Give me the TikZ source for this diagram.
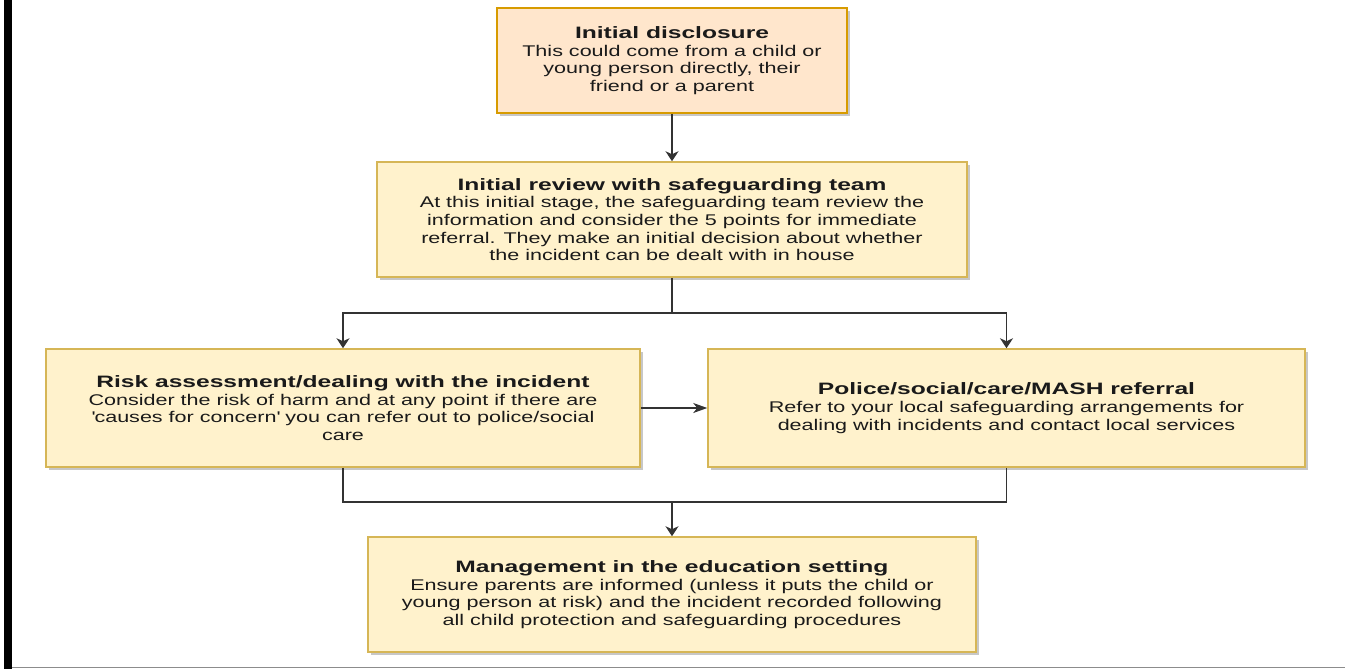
\documentclass[tikz,border=0pt]{standalone}
\usepackage{fontspec}
\newfontfamily\dfont[FakeStretch=1.39]{Liberation Sans}
\newfontfamily\tfont[FakeStretch=1.49]{Liberation Sans}
\newcommand\boxtitle[1]{{\tfont\bfseries\fontsize{16.5}{17.7}\selectfont #1}}
\usetikzlibrary{arrows.meta,shadows}
\definecolor{peachfill}{HTML}{FFE6CC}
\definecolor{peachline}{HTML}{D79B00}
\definecolor{yelfill}{HTML}{FFF2CC}
\definecolor{yelline}{HTML}{D6B656}
\definecolor{connc}{HTML}{333333}
\definecolor{bodytext}{HTML}{1A1A1A}
\definecolor{rulegray}{HTML}{8C8C8C}
\begin{document}
\begin{tikzpicture}[x=1pt,y=-1pt,
  box/.style={draw=yelline, fill=yelfill, line width=1.5pt, align=center, inner sep=0pt,
    text=bodytext, font=\dfont\fontsize{15.5}{17.7}\selectfont,
    drop shadow={shadow xshift=3pt,shadow yshift=-3pt,fill=black,opacity=0.22}},
  peach/.style={box, draw=peachline, fill=peachfill},
  conn/.style={draw=connc, line width=1.6pt},
  vtip/.style={-{Stealth[length=10pt,width=13pt,inset=3pt]}},
  htip/.style={-{Stealth[length=14pt,width=10pt,inset=4pt]}},
]
\useasboundingbox (0,0) rectangle (1345,669);
\fill[black] (4,0) rectangle (12,669);
\draw[rulegray, line width=1.5pt] (12,667.5) -- (1345,667.5);

\node[peach, minimum width=350pt, minimum height=105pt] (b1) at (672,60.5)
  {\boxtitle{Initial disclosure}\\This could come from a child or\\young person directly, their\\friend or a parent};
\node[box, minimum width=590pt, minimum height=115pt] (b2) at (672,219.5)
  {\boxtitle{Initial review with safeguarding team}\\At this initial stage, the safeguarding team review the\\information and consider the 5 points for immediate\\referral. They make an initial decision about whether\\the incident can be dealt with in house};
\node[box, minimum width=594pt, minimum height=118pt] (b3) at (343,408)
  {\boxtitle{Risk assessment/dealing with the incident}\\Consider the risk of harm and at any point if there are\\\textquotesingle causes for concern\textquotesingle{} you can refer out to police/social\\care};
\node[box, minimum width=597pt, minimum height=118pt] (b4) at (1006.5,408)
  {\boxtitle{Police/social/care/MASH referral}\\Refer to your local safeguarding arrangements for\\dealing with incidents and contact local services};
\node[box, minimum width=608pt, minimum height=115pt] (b5) at (672,594.5)
  {\boxtitle{Management in the education setting}\\Ensure parents are informed (unless it puts the child or\\young person at risk) and the incident recorded following\\all child protection and safeguarding procedures};

\coordinate (j1) at (672,313);
\coordinate (j2) at (672,502);
\draw[conn,vtip] (b1.south) -- (b2.north);
\draw[conn] (b2.south) -- (j1);
\draw[conn,vtip] (j1) -| (b3.north);
\draw[conn,vtip] (j1) -| (b4.north);
\draw[conn,htip] (b3.east) -- (b4.west);
\draw[conn] (b3.south) |- (j2) -| (b4.south);
\draw[conn,vtip] (j2) -- (b5.north);
\end{tikzpicture}
\end{document}
